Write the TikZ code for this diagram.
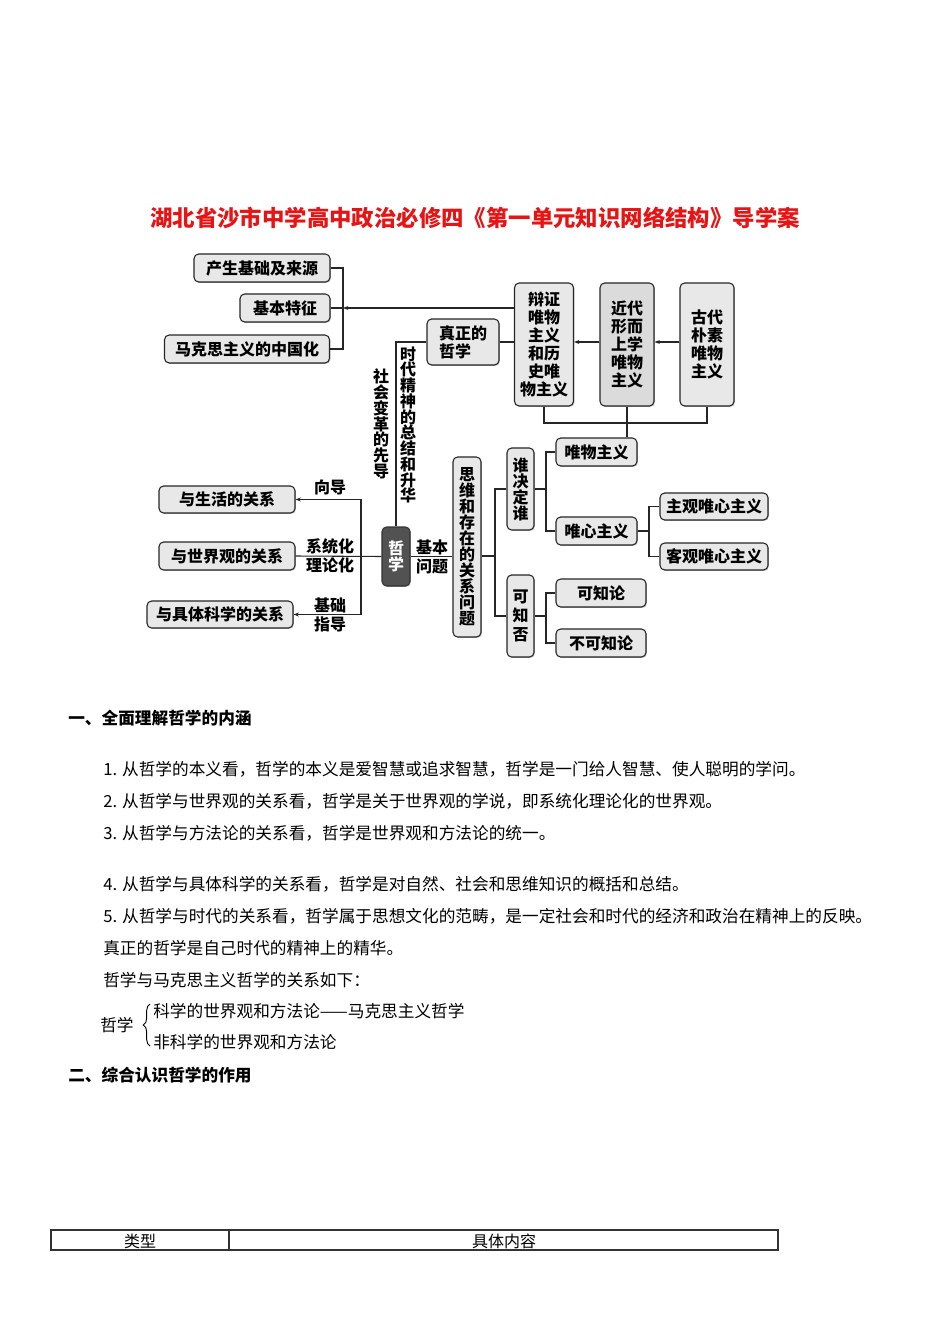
\documentclass[tikz,border=0pt]{standalone}
\usepackage{fontspec}
\setmainfont{Noto Sans CJK SC}
\usetikzlibrary{arrows.meta,decorations.pathreplacing,shadows}
\definecolor{titlered}{RGB}{230,20,20}
\begin{document}
\begin{tikzpicture}[x=0.75pt,y=-0.75pt,
  bx/.style={draw=black!85, fill=black!9, rounded corners=3.5pt, line width=0.8pt,
    inner sep=0pt, align=center, font=\bfseries\fontsize{12}{13.5}\selectfont,
    drop shadow={shadow xshift=0.7pt, shadow yshift=-0.7pt, fill=black!50}},
  vbx/.style={bx, font=\bfseries\fontsize{12}{12}\selectfont},
  wh/.style 2 args={minimum width=#1*0.75pt, minimum height=#2*0.75pt},
  ln/.style={line width=0.8pt, black!85},
  arr/.style={ln, -{Stealth[length=4pt,width=3pt]}},
  lbl/.style={inner sep=0pt, align=center, font=\bfseries\fontsize{12}{14.5}\selectfont},
  vlbl/.style={inner sep=0pt, align=center, font=\bfseries\fontsize{12}{11.8}\selectfont},
  body/.style={inner sep=0pt, anchor=west, font=\fontsize{12.5}{15}\selectfont},
  head/.style={inner sep=0pt, anchor=west, font=\bfseries\fontsize{12.5}{15}\selectfont},
]
\useasboundingbox (0,0) rectangle (950,1344);
\fill[white] (0,0) rectangle (950,1344);

% title
\node[inner sep=0pt, text=titlered, font=\bfseries\fontsize{16.8}{20}\selectfont] (title) at (475,218)
  {湖北省沙市中学高中政治必修四《第一单元知识网络结构》导学案};

% top-left boxes
\node[bx, wh={136}{28}] (A1) at (262,268) {产生基础及来源};
\node[bx, wh={90}{28}] (A2) at (285,308) {基本特征};
\node[bx, wh={165}{28}] (A3) at (247,349) {马克思主义的中国化};

% real philosophy and materialism boxes
\node[bx, wh={72}{46}, align=left] (B) at (463,342) {真正的\\哲学};
\node[bx, wh={59}{123}] (C1) at (544,344.5) {辩证\\唯物\\主义\\和历\\史唯\\物主义};
\node[bx, wh={54}{123}, fill=black!14] (C2) at (627,344.5) {近代\\形而\\上学\\唯物\\主义};
\node[bx, wh={54}{123}] (C3) at (707,344.5) {古代\\朴素\\唯物\\主义};

% philosophy centre
\node[vbx, wh={28}{59}, fill=black!68, text=white, draw=black!80] (D) at (396,556.5) {哲\\学};

% left relation boxes
\node[bx, wh={136}{27}] (E1) at (227,499.5) {与生活的关系};
\node[bx, wh={136}{28}] (E2) at (227,556) {与世界观的关系};
\node[bx, wh={146}{27}] (E3) at (220,614.5) {与具体科学的关系};

% right tree
\node[vbx, wh={28}{180}] (F) at (467,547) {思\\维\\和\\存\\在\\的\\关\\系\\问\\题};
\node[vbx, wh={27}{82}] (G1) at (520.5,489) {谁\\决\\定\\谁};
\node[vbx, wh={27}{82}, font=\bfseries\fontsize{12}{14}\selectfont] (G2) at (520.5,616) {可\\知\\否};
\node[bx, wh={81}{28}] (H1) at (596.5,452) {唯物主义};
\node[bx, wh={81}{28}] (H2) at (596.5,531) {唯心主义};
\node[bx, wh={90}{28}] (H3) at (601,593) {可知论};
\node[bx, wh={90}{28}] (H4) at (601,643) {不可知论};
\node[bx, wh={108}{27}] (I1) at (714,506.5) {主观唯心主义};
\node[bx, wh={108}{27}] (I2) at (714,556.5) {客观唯心主义};

% labels
\node[lbl] (l1) at (330,487) {向导};
\node[lbl] (l2) at (330,556) {系统化\\理论化};
\node[lbl] (l3) at (330,615) {基础\\指导};
\node[lbl] (l4) at (432,557) {基本\\问题};
\node[vlbl] (l5) at (408,425) {时\\代\\精\\神\\的\\总\\结\\和\\升\\华};
\node[vlbl] (l6) at (381,424) {社\\会\\变\\革\\的\\先\\导};

% bracket at top-left
\coordinate (ba) at (343,268);
\coordinate (bb) at (343,308);
\coordinate (bc) at (343,349);
\draw[ln] (A1.east) -- (ba) -- (bc) -- (A3.east);
\draw[ln] (A2.east) -- (bb);
\draw[arr] (C1.west |- bb) -- (bb);

% 哲学 -> 真正的哲学 -> 辩证
\draw[ln] (D.north) |- (B.west);
\draw[ln] (B.east) -- (B.east -| C1.west);
\draw[arr] (C2.west |- B.east) -- (C1.east |- B.east);
\draw[arr] (C3.west |- B.east) -- (C2.east |- B.east);

% bottom bus of materialism boxes
\coordinate (cb) at (0,423);
\draw[ln] (C1.south) -- (C1.south |- cb) -- (C3.south |- cb) -- (C3.south);
\draw[ln] (C2.south) -- (C2.south |- H1.north);

% left bus
\coordinate (lb) at (361,556);
\draw[ln] (D.west) -- (E2.east);
\draw[arr] (lb) |- (E1.east);
\draw[arr] (lb) |- (E3.east);

% right tree connectors
\coordinate (fb) at (495,556);
\draw[ln] (D.east) -- (D.east -| F.west);
\draw[ln] (F.east |- fb) -- (fb);
\draw[ln] (G1.west) -| (fb) |- (G2.west);
\coordinate (gb1) at (546,489);
\draw[ln] (G1.east) -- (gb1);
\draw[ln] (H1.west) -| (gb1) |- (H2.west);
\coordinate (hb) at (649,531);
\draw[ln] (H2.east) -- (hb);
\draw[ln] (I1.west) -| (hb) |- (I2.west);
\coordinate (gb2) at (546,616);
\draw[ln] (G2.east) -- (gb2);
\draw[ln] (H3.west) -| (gb2) |- (H4.west);

% text section
\node[head] (h1) at (68,718) {一、全面理解哲学的内涵};
\node[body] (t1) at (103,769) {1. 从哲学的本义看，哲学的本义是爱智慧或追求智慧，哲学是一门给人智慧、使人聪明的学问。};
\node[body] (t2) at (103,801) {2. 从哲学与世界观的关系看，哲学是关于世界观的学说，即系统化理论化的世界观。};
\node[body] (t3) at (103,833) {3. 从哲学与方法论的关系看，哲学是世界观和方法论的统一。};
\node[body] (t4) at (103,884) {4. 从哲学与具体科学的关系看，哲学是对自然、社会和思维知识的概括和总结。};
\node[body] (t5) at (103,916) {5. 从哲学与时代的关系看，哲学属于思想文化的范畴，是一定社会和时代的经济和政治在精神上的反映。};
\node[body] (t6) at (103,948) {真正的哲学是自己时代的精神上的精华。};
\node[body] (t7) at (103,980) {哲学与马克思主义哲学的关系如下：};
\node[body] (t8) at (100,1025) {哲学};
\draw[line width=0.7pt, decorate, decoration={brace, amplitude=5pt}] (150,1046) -- (150,1004);
\node[body] (t9) at (153,1011) {科学的世界观和方法论——马克思主义哲学};
\node[body] (t10) at (153,1042) {非科学的世界观和方法论};
\node[head] (h2) at (68,1075) {二、综合认识哲学的作用};

% table
\draw[line width=0.8pt, black!80] (51,1230) rectangle (778,1250);
\draw[line width=0.8pt, black!80] (229,1230) -- (229,1250);
\node[inner sep=0pt, font=\fontsize{12}{14}\selectfont] (k1) at (140,1241) {类型};
\node[inner sep=0pt, font=\fontsize{12}{14}\selectfont] (k2) at (504,1241) {具体内容};
\end{tikzpicture}
\end{document}
